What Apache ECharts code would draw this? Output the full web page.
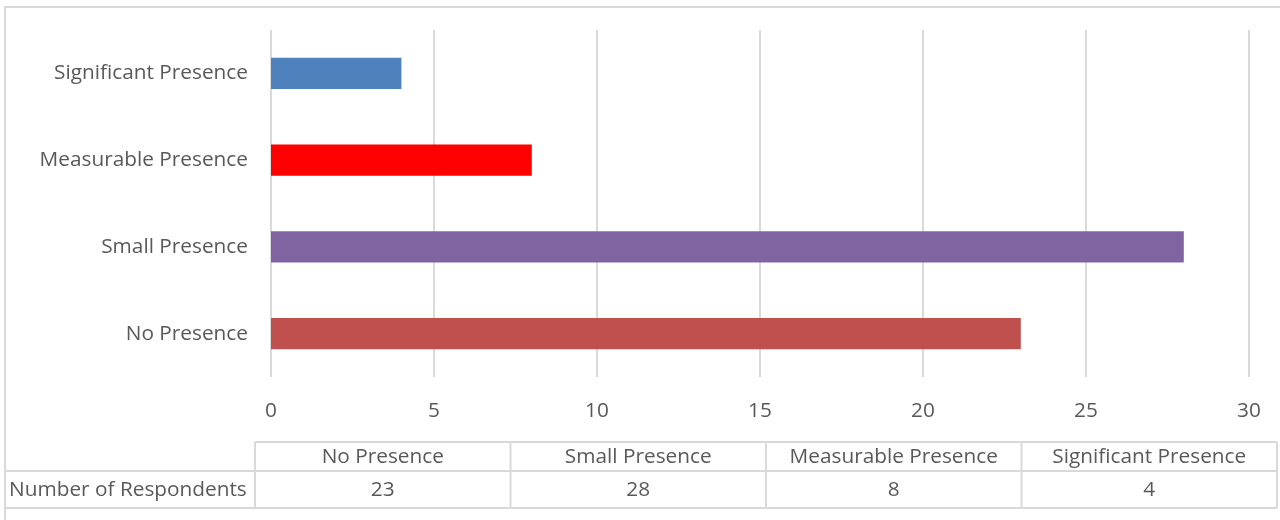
<!DOCTYPE html>
<html>
<head>
<meta charset="utf-8">
<script src="https://cdn.jsdelivr.net/npm/echarts@6/dist/echarts.min.js"></script>
<style>
html,body{margin:0;padding:0;background:#fff;}
#chart{width:1280px;height:520px;}
</style>
</head>
<body>
<div id="chart"></div>
<script>
// ---- data ----
const categories = ['No Presence', 'Small Presence', 'Measurable Presence', 'Significant Presence'];
const respondents = [23, 28, 8, 4];
const barColors = ['#C0504D', '#8064A2', '#FF0000', '#4F81BD'];
const xMin = 0, xMax = 30, xStep = 5;
const tableRowLabel = 'Number of Respondents';

// ---- style / layout ----
const FONT = '"Open Sans", sans-serif';
const TXT = '#595959';
const LINE = '#D9D9D9';
const FS = 20.8;

const chart = echarts.init(document.getElementById('chart'));

// table layout
const tLeft = 4, tColStart = 255, tRight = 1277;
const tTop = 442, tMid = 471, tBot = 508;
const colW = (tRight - tColStart) / categories.length;

const graphics = [];
// outer border
graphics.push({type:'rect', shape:{x:5, y:7, width:1400, height:700}, style:{fill:'none', stroke:LINE, lineWidth:2}, silent:true});
// horizontal lines
graphics.push({type:'line', shape:{x1:tColStart, y1:tTop, x2:tRight, y2:tTop}, style:{stroke:LINE, lineWidth:2}});
graphics.push({type:'line', shape:{x1:tLeft, y1:tMid, x2:tRight, y2:tMid}, style:{stroke:LINE, lineWidth:2}});
graphics.push({type:'line', shape:{x1:tLeft, y1:tBot, x2:tRight, y2:tBot}, style:{stroke:LINE, lineWidth:2}});
// vertical lines
for (let i = 0; i <= categories.length; i++) {
  const x = tColStart + i * colW;
  graphics.push({type:'line', shape:{x1:x, y1:tTop, x2:x, y2:tBot}, style:{stroke:LINE, lineWidth:2}});
}
// texts
categories.forEach((c, i) => {
  const cx = tColStart + (i + 0.5) * colW;
  graphics.push({type:'text', x:cx, y:(tTop + tMid) / 2 + 0.5, style:{text:c, fill:TXT, font:FS + 'px ' + FONT, textAlign:'center', textVerticalAlign:'middle'}});
  graphics.push({type:'text', x:cx, y:(tMid + tBot) / 2 + 0.5, style:{text:String(respondents[i]), fill:TXT, font:FS + 'px ' + FONT, textAlign:'center', textVerticalAlign:'middle'}});
});
graphics.push({type:'text', x:9, y:(tMid + tBot) / 2 + 0.5, style:{text:tableRowLabel, fill:TXT, font:FS + 'px ' + FONT, textAlign:'left', textVerticalAlign:'middle'}});

chart.setOption({
  animation: false,
  backgroundColor: '#fff',
  grid: {left: 271, right: 31, top: 30, bottom: 143, containLabel: false},
  xAxis: {
    type: 'value', min: xMin, max: xMax, interval: xStep,
    axisLine: {show: false}, axisTick: {show: false},
    axisLabel: {color: TXT, fontFamily: FONT, fontSize: FS, margin: 24},
    splitLine: {show: true, lineStyle: {color: LINE, width: 2}}
  },
  yAxis: {
    type: 'category', data: categories,
    axisLine: {show: false}, axisTick: {show: false},
    axisLabel: {color: TXT, fontFamily: FONT, fontSize: FS, margin: 23, padding: [2, 0, 0, 0]}
  },
  series: [{
    type: 'bar',
    barWidth: '36%',
    data: respondents.map((v, i) => ({value: v, itemStyle: {color: barColors[i]}}))
  }],
  graphic: graphics
});
</script>
</body>
</html>
